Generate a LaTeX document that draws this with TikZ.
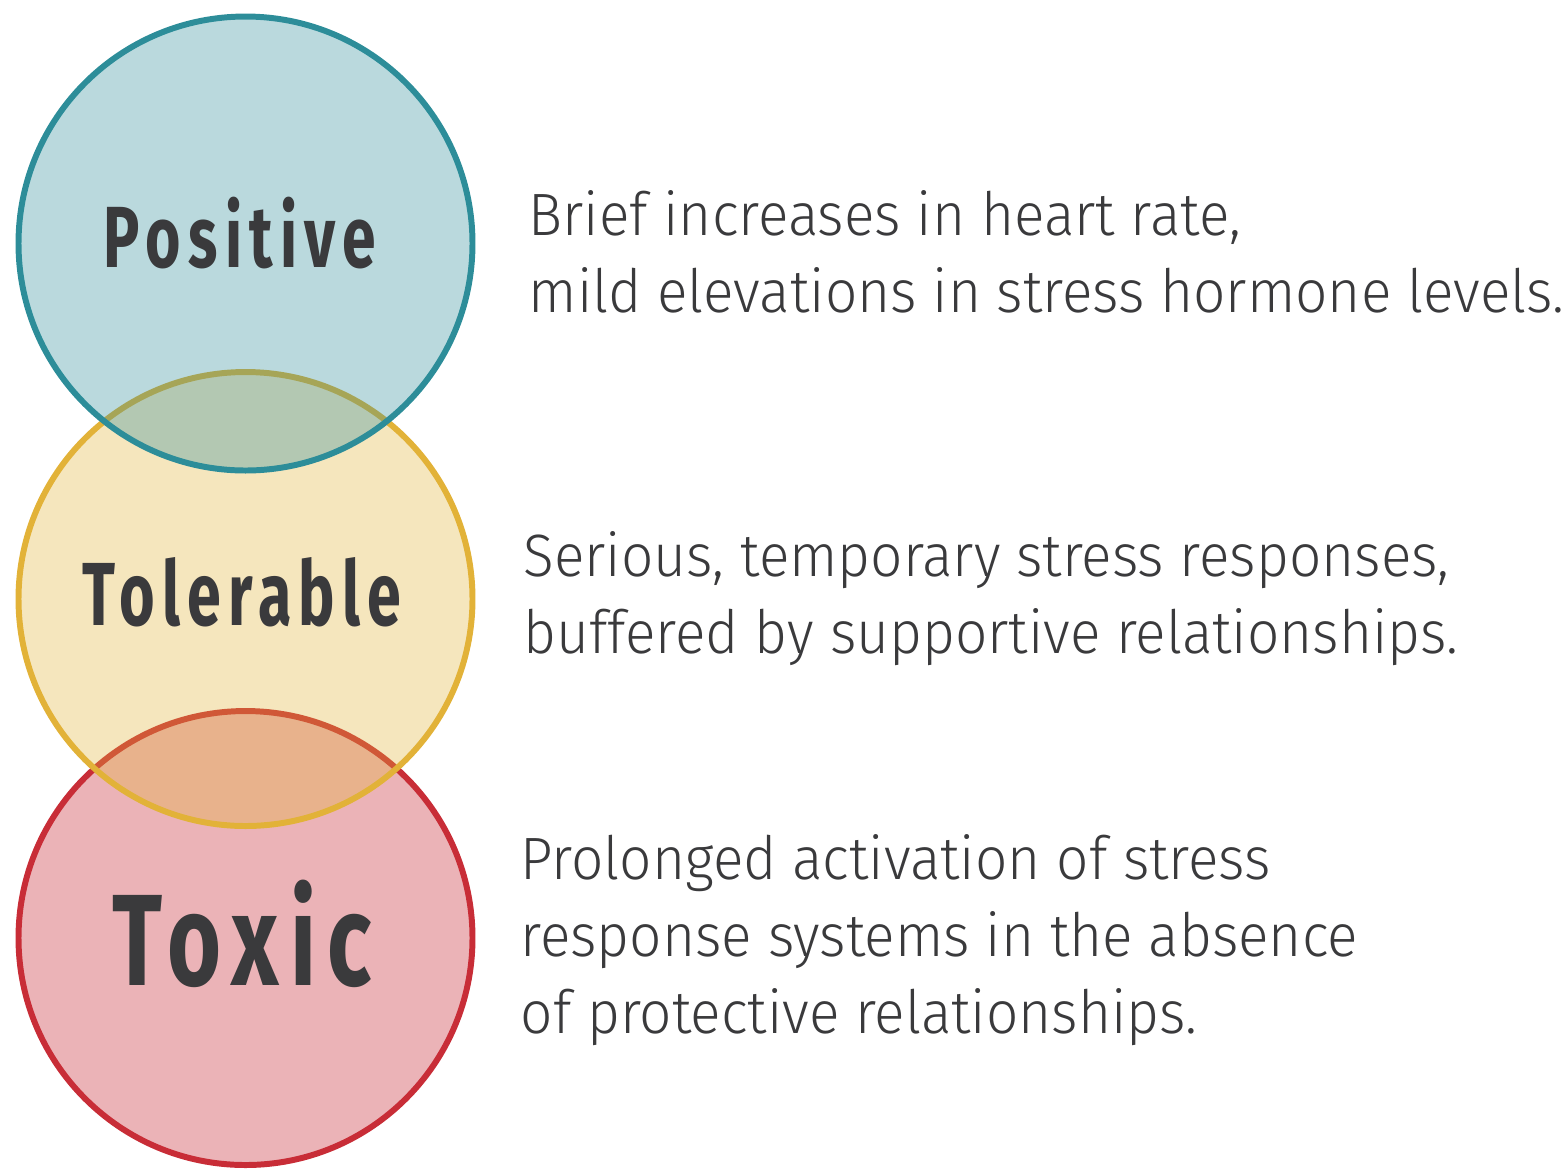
\documentclass[tikz,border=0pt]{standalone}
\usepackage{fontspec}
\setmainfont{Fira Sans}[UprightFont={* Light}, BoldFont={* Bold}, FakeStretch=0.95]
\newfontfamily\ringfont{Fira Sans}[UprightFont={* Bold}, LetterSpace=12]
\usetikzlibrary{positioning}

\definecolor{posline}{HTML}{2D8D99}
\definecolor{tolline}{HTML}{E2B238}
\definecolor{toxline}{HTML}{C82D37}
\definecolor{inkgray}{HTML}{3A3A3C}

\begin{document}
\begin{tikzpicture}
\tikzset{ring/.style = {shape=circle, minimum size=4.54cm, inner sep=0pt, line width=1.7pt,
		draw=#1, fill=#1, fill opacity=0.33},
	ringlabel/.style = {text=inkgray, anchor=base, inner sep=0pt},
	effect/.style = {text=inkgray, align=left, anchor=base west, inner sep=0pt,
		font=\fontsize{17}{21.9}\selectfont}}
\useasboundingbox (0,0) rectangle (15.62,-11.71);

% rings, bottom one first so the upper ones lie over it
\node[ring=toxline, fill opacity=0.36] (TOXIC) at (2.455,-9.38) {};
\node[ring=tolline] (TOLERABLE) at (2.455,-5.99) {};
\node[ring=posline] (POSITIVE) at (2.455,-2.435) {};

% ring labels
\node[ringlabel] (POSLABEL) at (2.40,-2.67)
	{\resizebox{2.72cm}{\height}{\fontsize{24.7}{26}\ringfont Positive}};
\node[ringlabel] (TOLLABEL) at (2.42,-6.25)
	{\resizebox{3.19cm}{\height}{\fontsize{25.5}{27}\ringfont Tolerable}};
\node[ringlabel] (TOXLABEL) at (2.42,-9.85)
	{\resizebox{2.60cm}{\height}{\fontsize{37}{39}\ringfont Toxic}};

% effects (anchored on the last line)
\node[effect] (POSTEXT) at (5.28,-3.12)
	{Brief increases in heart rate,\\
	mild elevations in stress hormone levels.};
\node[effect] (TOLTEXT) at (5.23,-6.53)
	{Serious, temporary stress responses,\\
	buffered by supportive relationships.};
\node[effect] (TOXTEXT) at (5.20,-10.33)
	{Prolonged activation of stress\\
	response systems in the absence\\
	of protective relationships.};
\end{tikzpicture}
\end{document}
